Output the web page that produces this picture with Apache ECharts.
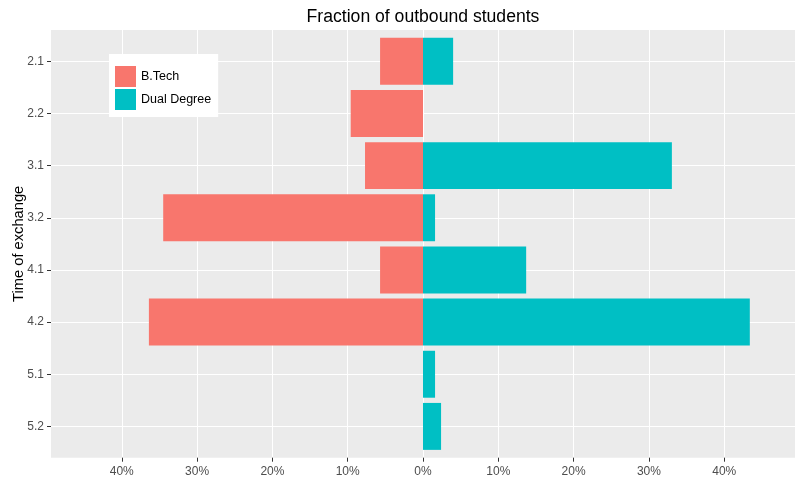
<!DOCTYPE html>
<html>
<head>
<meta charset="utf-8">
<script src="https://cdn.jsdelivr.net/npm/echarts@6/dist/echarts.min.js"></script>
<style>
html,body{margin:0;padding:0;background:#fff;}
#chart{width:803px;height:482px;}
</style>
</head>
<body>
<div id="chart"></div>
<script>
const categories = ['2.1', '2.2', '3.1', '3.2', '4.1', '4.2', '5.1', '5.2'];
const btech = [5.7, 9.6, 7.7, 34.5, 5.7, 36.4, 0, 0];
const dualDegree = [4.0, 0, 33.05, 1.6, 13.7, 43.4, 1.6, 2.4];
const xTicks = [-40, -30, -20, -10, 0, 10, 20, 30, 40];

const FONT = 'Liberation Sans, Arial, sans-serif';
const chart = echarts.init(document.getElementById('chart'), null, {renderer: 'canvas'});
const pct = v => Math.abs(Math.round(v)) + '%';

chart.setOption({
  animation: false,
  backgroundColor: '#ffffff',
  textStyle: {fontFamily: FONT},
  title: {
    text: 'Fraction of outbound students',
    left: 423, top: 8, textAlign: 'center', padding: 0,
    textStyle: {fontSize: 17.6, fontWeight: 'normal', color: '#000', fontFamily: FONT}
  },
  legend: {
    orient: 'vertical',
    left: 109, top: 54,
    backgroundColor: '#ffffff',
    padding: [12, 7, 7, 6],
    itemWidth: 21, itemHeight: 21, itemGap: 2,
    icon: 'rect',
    data: ['B.Tech', 'Dual Degree'],
    textStyle: {fontSize: 12.5, color: '#000', fontFamily: FONT}
  },
  grid: [
    {left: 51, right: 8, top: 30, bottom: 24.3, show: true, backgroundColor: '#EBEBEB', borderWidth: 0,
     containLabel: false, outerBoundsMode: 'none'},
    {left: 51, right: 8, top: 61.3, height: 365.1, containLabel: false, outerBoundsMode: 'none'}
  ],
  xAxis: [
    {
      gridIndex: 0, type: 'value', min: -49.4, max: 49.4, splitNumber: 10,
      axisLine: {show: false, onZero: false},
      axisTick: {show: true, length: 4, lineStyle: {color: '#333333'}, customValues: xTicks},
      axisLabel: {customValues: xTicks, formatter: pct, color: '#4D4D4D', fontSize: 12, margin: 8, fontFamily: FONT},
      splitLine: {show: true, lineStyle: {color: '#ffffff', width: 1}}
    },
    {
      gridIndex: 1, type: 'value', min: -49.4, max: 49.4, show: false
    }
  ],
  yAxis: [
    {gridIndex: 0, type: 'value', min: 0, max: 1, show: false},
    {
      gridIndex: 1, type: 'category', inverse: true, boundaryGap: false,
      data: categories,
      axisLine: {show: false, onZero: false},
      axisTick: {show: true, length: 4, lineStyle: {color: '#333333'}},
      axisLabel: {color: '#4D4D4D', fontSize: 12, margin: 7, fontFamily: FONT},
      splitLine: {show: true, lineStyle: {color: '#ffffff', width: 1}},
      name: 'Time of exchange', nameLocation: 'middle', nameGap: 25, nameMoveOverlap: false,
      nameTextStyle: {color: '#000', fontSize: 14.7, fontFamily: FONT}
    }
  ],
  series: [
    {
      name: 'B.Tech', type: 'bar', xAxisIndex: 1, yAxisIndex: 1, stack: 'total',
      barWidth: '90%', clip: false,
      itemStyle: {color: '#F8766D'},
      data: btech.map(v => -v)
    },
    {
      name: 'Dual Degree', type: 'bar', xAxisIndex: 1, yAxisIndex: 1, stack: 'total',
      barWidth: '90%', clip: false,
      itemStyle: {color: '#00BFC4'},
      data: dualDegree
    }
  ]
});
</script>
</body>
</html>
